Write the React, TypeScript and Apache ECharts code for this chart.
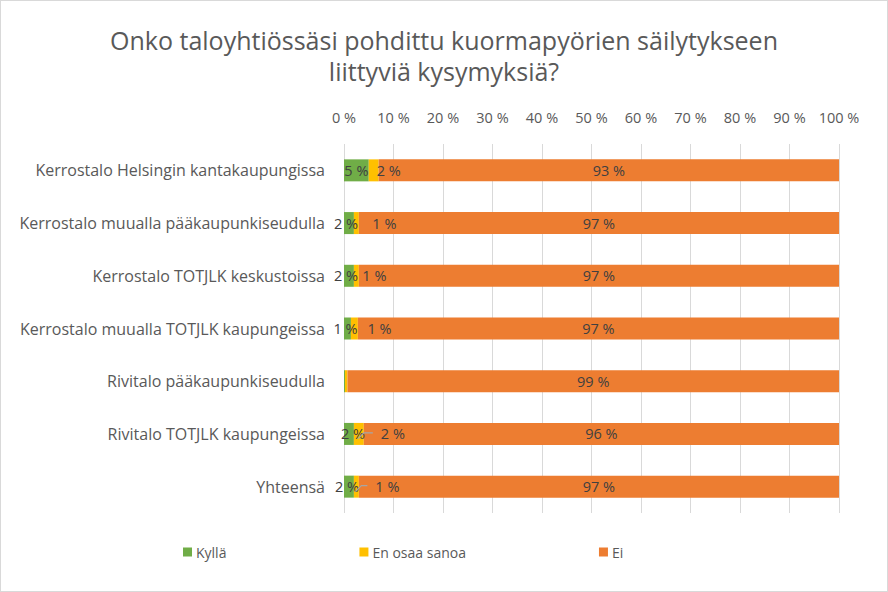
import React, { useEffect, useRef } from "react";
import * as echarts from "echarts";

const categories = [
  "Kerrostalo Helsingin kantakaupungissa",
  "Kerrostalo muualla pääkaupunkiseudulla",
  "Kerrostalo TOTJLK keskustoissa",
  "Kerrostalo muualla TOTJLK kaupungeissa",
  "Rivitalo pääkaupunkiseudulla",
  "Rivitalo TOTJLK kaupungeissa",
  "Yhteensä",
];
const kylla = [5, 2, 2, 1.4, 0.2, 2, 2];
const enOsaa = [2, 1, 1, 1.4, 0.5, 2, 1];
const ei = [93, 97, 97, 97.2, 99.3, 96, 97];
const seriesNames = ["Kyllä", "En osaa sanoa", "Ei"];
const xTicks = [0, 10, 20, 30, 40, 50, 60, 70, 80, 90, 100];

const kyllaDx = [0, -3, -3, -2, 0, 4, -2];
const enOsaaDx = [15, 28, 18, 25, 0, 34, 31];
const hideLabel = [false, false, false, false, true, false, false];
const leader = [false, false, false, false, false, true, true];

const FONT = "'Open Sans', Lato, sans-serif";
const TXT = "#404040";

export default function App() {
  const ref = useRef<HTMLDivElement>(null);
  useEffect(() => {
    const chart = echarts.init(ref.current!, null, { renderer: "svg" });
    const lbl = (v: number) => `${Math.round(v)} %`;
    chart.setOption({
      animation: false,
      textStyle: { fontFamily: FONT },
      title: {
        text: "Onko taloyhtiössäsi pohdittu kuormapyörien säilytykseen\nliittyviä kysymyksiä?",
        left: "center",
        top: 18,
        textStyle: { fontFamily: FONT, fontSize: 25, fontWeight: "normal", color: "#595959", lineHeight: 31 },
      },
      legend: {
        bottom: 27,
        left: 177,
        itemWidth: 9,
        itemHeight: 9,
        itemGap: 133,
        icon: "rect",
        textStyle: { fontFamily: FONT, fontSize: 14, color: "#595959", padding: [0, 0, 0, -1] },
        data: seriesNames,
      },
      grid: { left: 343, right: 48, top: 143, bottom: 78, containLabel: false },
      xAxis: {
        type: "value",
        position: "top",
        min: 0,
        max: 100,
        interval: 10,
        axisLine: { show: false },
        axisTick: { show: false },
        splitLine: { lineStyle: { color: "#d9d9d9" } },
        axisLabel: {
          color: "#595959",
          fontSize: 14.5,
          margin: 19,
          formatter: (v: number) => (xTicks.includes(v) ? `${v} %` : ""),
        },
      },
      yAxis: {
        type: "category",
        inverse: true,
        data: categories,
        axisLine: { show: false },
        axisTick: { show: false },
        axisLabel: { color: "#595959", fontSize: 16, margin: 19 },
      },
      series: [
        {
          name: seriesNames[0],
          type: "bar",
          stack: "s",
          barWidth: 22,
          itemStyle: { color: "#70AD47" },
          data: kylla.map((v, i) => ({
            value: v,
            label: {
              show: !hideLabel[i],
              position: "inside",
              offset: [kyllaDx[i], 0],
              formatter: () => lbl(v),
              color: TXT,
              fontSize: 14.5,
            },
          })),
        },
        {
          name: seriesNames[1],
          type: "bar",
          stack: "s",
          barWidth: 22,
          itemStyle: { color: "#FFC000" },
          data: enOsaa.map((v, i) => ({
            value: v,
            label: {
              show: !hideLabel[i],
              position: "inside",
              offset: [enOsaaDx[i], 0],
              formatter: () => lbl(v),
              color: TXT,
              fontSize: 14.5,
            },
          })),
        },
        {
          name: seriesNames[2],
          type: "bar",
          stack: "s",
          barWidth: 22,
          itemStyle: { color: "#ED7D31" },
          label: {
            show: true,
            position: "inside",
            color: TXT,
            fontSize: 14.5,
            formatter: (p: any) => lbl(p.value),
          },
          data: ei,
        },
      ],
    });
    // leader lines for moved labels, positioned through the chart's own scales
    const lines: any[] = [];
    leader.forEach((on, i) => {
      if (!on) return;
      const p = chart.convertToPixel({ gridIndex: 0 }, [kylla[i] + enOsaa[i] / 2, i]) as number[];
      const cx = p[0];
      const cy = p[1];
      lines.push({
        type: "polyline",
        silent: true,
        z: 100,
        shape: {
          points: [
            [cx - 1, cy + 5],
            [cx + 5, cy - 1],
            [cx + enOsaaDx[i] - 20, cy - 1],
          ],
        },
        style: { stroke: "#a6a6a6", lineWidth: 1.2, fill: "none" },
      });
    });
    chart.setOption({ graphic: lines });
    return () => chart.dispose();
  }, []);
  return (
    <div
      ref={ref}
      style={{
        position: "fixed",
        left: 0,
        top: 0,
        width: 888,
        height: 592,
        boxSizing: "border-box",
        border: "1px solid #d9d9d9",
        background: "#fff",
      }}
    />
  );
}
